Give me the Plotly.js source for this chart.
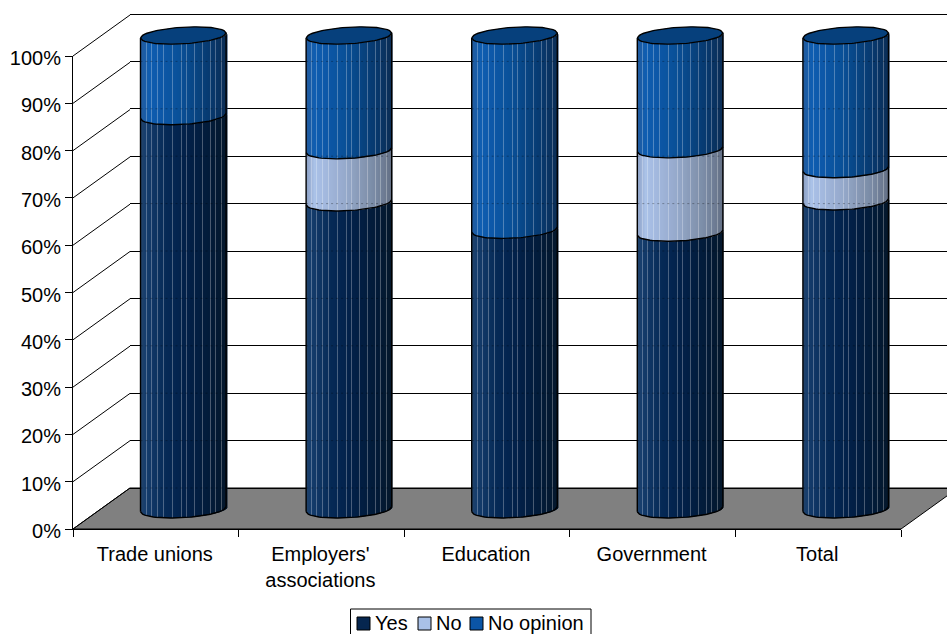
<!DOCTYPE html>
<html>
<head>
<meta charset="utf-8">
<script src="https://cdn.plot.ly/plotly-3.0.1.min.js"></script>
<style>html,body{margin:0;padding:0;background:#fff;overflow:hidden}#chart{width:947px;height:634px}</style>
</head>
<body>
<div id="chart"></div>
<script>
// Survey shares per group, percent of respondents
const categories = ["Trade unions", "Employers'<br>associations", "Education", "Government", "Total"];
const yes = [83.0, 64.8, 59.0, 58.4, 65.0];
const no = [0, 11.0, 0, 17.6, 6.8];
const noOpinion = [17.0, 24.2, 41.0, 24.0, 28.2];
const percentTicks = [0, 10, 20, 30, 40, 50, 60, 70, 80, 90, 100];
const legendNames = ["Yes", "No", "No opinion"];
const legendColors = ["#06264f", "#a9c1e8", "#0b55a5"];

const W = 947, H = 634;
const fx = p => p / W, fy = p => 1 - p / H;

// Frame geometry: front plane, back wall and the plane through the cylinder axes.
// The cylinder plane starts on a whole pixel so the wall slices land on the pixel grid.
const front = {l: 73, r: 901, b: 529, t: 56};
const back = {l: 130, r: 947, b: 488, t: 14};
const axisPlane = {l: 100, r: 928, b: 509.3, t: 35.5};
const catW = (axisPlane.r - axisPlane.l) / 5;
const axisNudge = 0.5;
const radiusX = 42.8, radiusY = 8.3, tilt = 2.5;
const pxPerPct = (axisPlane.b - axisPlane.t) / 100;
const padPct = 5;  // spare room on the value axes so rims and the top gridline are not clipped

// Horizontal shading of the cylinder wall, left edge to right edge
const ramps = [
  [[0, [36, 66, 106]], [0.05, [22, 62, 110]], [0.3, [6, 42, 86]], [0.5, [3, 34, 74]], [0.8, [3, 28, 58]], [1, [5, 24, 44]]],
  [[0, [140, 160, 196]], [0.1, [170, 194, 232]], [0.45, [150, 170, 204]], [0.8, [122, 138, 164]], [1, [100, 112, 132]]],
  [[0, [36, 92, 156]], [0.1, [16, 94, 178]], [0.45, [10, 80, 152]], [0.8, [8, 58, 112]], [1, [12, 46, 86]]]
];
const stripes = [5, 10, 16, 22, 31, 40, 45, 53, 61, 69, 74, 80];
const N = 86;

function shade(ramp, t, k) {
  let i = 0;
  while (i < ramp.length - 2 && t > ramp[i + 1][0]) i++;
  const [t0, c0] = ramp[i], [t1, c1] = ramp[i + 1];
  const f = Math.min(1, Math.max(0, (t - t0) / (t1 - t0)));
  const lift = stripes.includes(k) ? 0.28 : 0;
  const c = c0.map((v, n) => {
    const m = v + (c1[n] - v) * f;
    return Math.round(m + (255 - m) * lift);
  });
  return `rgb(${c.join(",")})`;
}

// Front edge of an elliptical section, as an offset in percent; u runs -1..1 across the cylinder
const frontEdge = u => (tilt * u - radiusY * Math.sqrt(Math.max(0, 1 - u * u))) / pxPerPct;
const backEdge = u => (tilt * u + radiusY * Math.sqrt(Math.max(0, 1 - u * u))) / pxPerPct;
const xOf = u => (u * radiusX + axisNudge) / catW;
// Left pixel column of a cylinder
const leftPixel = i => Math.round(axisPlane.l + (i + 0.5) * catW + axisNudge - radiusX);

const series = [yes, no, noOpinion];
const traces = [];

// Back wall gridlines carry the first axis pair; a placeholder keeps the subplot alive
traces.push({type: "scatter", mode: "lines", x: [0], y: [0], xaxis: "x", yaxis: "y", showlegend: false, hoverinfo: "skip", line: {width: 0}});
// Front frame: category labels and percent scale
traces.push({type: "scatter", mode: "lines", x: categories, y: categories.map(() => 0), xaxis: "x2", yaxis: "y2", showlegend: false, hoverinfo: "skip", line: {width: 0}});

// Each cylinder wall is a fan of overlapping bars whose bases follow the elliptical section
series.forEach((vals, s) => {
  const below = vals.map((_, i) => series.slice(0, s).reduce((a, b) => a + b[i], 0));
  for (let k = 0; k < N; k++) {
    const u = (k + 0.5) / N * 2 - 1;
    traces.push({
      type: "bar", xaxis: "x3", yaxis: "y3", showlegend: false, hoverinfo: "skip",
      x: vals.map((_, i) => (leftPixel(i) + k + 1 - axisPlane.l) / catW - 0.5),
      y: vals,
      base: below.map(b => b + frontEdge(u)),
      width: (k === N - 1 ? 1.02 : 2.02) / catW,
      marker: {color: shade(ramps[s], (k + 0.5) / N, k), line: {width: 0}}
    });
  }
});

// Back wall gridlines faintly showing through the cylinders
const gridX = [], gridY = [];
percentTicks.forEach(t => {
  const pct = (axisPlane.b - (back.b + (back.t - back.b) * t / 100)) / pxPerPct;
  categories.forEach((_, i) => {
    const total = series.reduce((a, v) => a + v[i], 0);
    if (pct < total) { gridX.push(i + xOf(-1), i + xOf(1), null); gridY.push(pct, pct, null); }
  });
});
traces.push({type: "scatter", mode: "lines", xaxis: "x3", yaxis: "y3", x: gridX, y: gridY, showlegend: false, hoverinfo: "skip",
  line: {color: "rgba(0,0,0,0.3)", width: 1, dash: "2px,3px"}});

// Outlines: bottom rim, section rims and the two silhouette edges
const rimX = [], rimY = [];
const M = 40;
categories.forEach((_, i) => {
  let cum = 0;
  const levels = [0];
  series.forEach(v => { cum += v[i]; if (v[i] > 0) levels.push(cum); });
  levels.slice(0, -1).forEach(lv => {
    for (let m = 0; m <= M; m++) {
      const u = m / M * 2 - 1;
      rimX.push(i + xOf(u)); rimY.push(lv + frontEdge(u));
    }
    rimX.push(null); rimY.push(null);
  });
  [-1, 1].forEach(u => {
    rimX.push(i + xOf(u), i + xOf(u), null);
    rimY.push(frontEdge(u), cum + frontEdge(u), null);
  });
});
traces.push({type: "scatter", mode: "lines", xaxis: "x3", yaxis: "y3", x: rimX, y: rimY, showlegend: false, hoverinfo: "skip", line: {color: "#000", width: 1.4}});

// Top cap of every cylinder
categories.forEach((_, i) => {
  const total = series.reduce((a, v) => a + v[i], 0);
  const xs = [], ys = [];
  for (let m = 0; m <= M; m++) { const u = m / M * 2 - 1; xs.push(i + xOf(u)); ys.push(total + frontEdge(u)); }
  for (let m = M; m >= 0; m--) { const u = m / M * 2 - 1; xs.push(i + xOf(u)); ys.push(total + backEdge(u)); }
  traces.push({type: "scatter", mode: "lines", xaxis: "x3", yaxis: "y3", x: xs, y: ys, fill: "toself", fillcolor: "#06407c", showlegend: false, hoverinfo: "skip", line: {color: "#000", width: 1.4}});
});

// Wall and floor construction lines, tied to the percent ticks
const shapes = [];
const path = pts => pts.map((p, i) => (i ? "L" : "M") + fx(p[0]) + " " + fy(p[1])).join(" ") + " Z";
const dx = back.l - front.l, dy = front.b - back.b;
shapes.push({type: "path", layer: "below", xref: "paper", yref: "paper",
  path: path([[front.l, front.b], [front.r, front.b], [front.r + dx, back.b], [back.l, back.b]]),
  fillcolor: "#808080", line: {color: "#000", width: 1}});
percentTicks.forEach(t => {
  const yf = front.b + (front.t - front.b) * t / 100;
  shapes.push({type: "line", layer: "below", xref: "paper", yref: "paper",
    x0: fx(front.l), y0: fy(yf), x1: fx(back.l), y1: fy(yf - dy), line: {color: "#000", width: 1}});
});

const font = {family: "Liberation Sans, Arial, sans-serif", size: 20, color: "#000"};
const hidden = {showgrid: false, zeroline: false, showline: false, showticklabels: false, ticks: "", fixedrange: true};

// Legend box, swatches and labels along the bottom edge
const annotations = [];
const legendTop = 609, legendBox = [350.5, 591];
shapes.push({type: "rect", xref: "paper", yref: "paper", x0: fx(legendBox[0]), x1: fx(legendBox[1]), y0: fy(legendTop + 40), y1: fy(legendTop),
  fillcolor: "#fff", line: {color: "#000", width: 1}});
const swatchLeft = [357, 418, 470], textLeft = [375, 436, 488];
legendNames.forEach((name, i) => {
  shapes.push({type: "rect", xref: "paper", yref: "paper", x0: fx(swatchLeft[i]), x1: fx(swatchLeft[i] + 13), y0: fy(630), y1: fy(617),
    fillcolor: legendColors[i], line: {color: "#000", width: 1}});
  annotations.push({xref: "paper", yref: "paper", x: fx(textLeft[i]), y: fy(622.5), xanchor: "left", yanchor: "middle", text: name, showarrow: false, font, borderpad: 0, borderwidth: 0});
});

const layout = {
  width: W, height: H, showlegend: false,
  margin: {l: 0, r: 0, t: 0, b: 0, pad: 0, autoexpand: false},
  paper_bgcolor: "#fff", plot_bgcolor: "rgba(0,0,0,0)",
  font, shapes, annotations, barmode: "overlay", hovermode: false,
  xaxis: {...hidden, domain: [fx(back.l), fx(back.r)], range: [0, 1], anchor: "y"},
  yaxis: {...hidden, range: [-1, 101], anchor: "x",
    domain: [fy(back.b + (back.b - back.t) / 100), fy(back.t - (back.b - back.t) / 100)],
    showgrid: true, gridcolor: "#000", gridwidth: 1, tickvals: percentTicks},
  xaxis2: {domain: [fx(front.l), fx(front.r)], range: [-0.5, 4.5], anchor: "y2", type: "category",
    categoryorder: "array", categoryarray: categories, tickson: "boundaries",
    ticks: "outside", ticklen: 7, tickcolor: "#000", tickwidth: 1, showline: true, linecolor: "#000", linewidth: 1,
    showgrid: false, zeroline: false, tickfont: font, tickangle: 0, fixedrange: true, ticklabelstandoff: 7, ticklabelshift: -1},
  yaxis2: {domain: [fy(front.b), fy(front.t)], range: [0, 100], anchor: "x2",
    tickvals: percentTicks, ticktext: percentTicks.map(t => t + "%"),
    ticks: "outside", ticklen: 7, tickcolor: "#000", tickwidth: 1, showline: true, linecolor: "#000", linewidth: 1,
    showgrid: false, zeroline: false, tickfont: font, fixedrange: true, ticklabelshift: 2},
  xaxis3: {...hidden, domain: [fx(axisPlane.l), fx(axisPlane.r)], range: [-0.5, 4.5], anchor: "y3"},
  yaxis3: {...hidden, range: [-padPct, 100 + padPct], anchor: "x3",
    domain: [fy(axisPlane.b + padPct * pxPerPct), fy(axisPlane.t - padPct * pxPerPct)]}
};

Plotly.newPlot("chart", traces, layout, {staticPlot: true, displayModeBar: false});
</script>
</body>
</html>
